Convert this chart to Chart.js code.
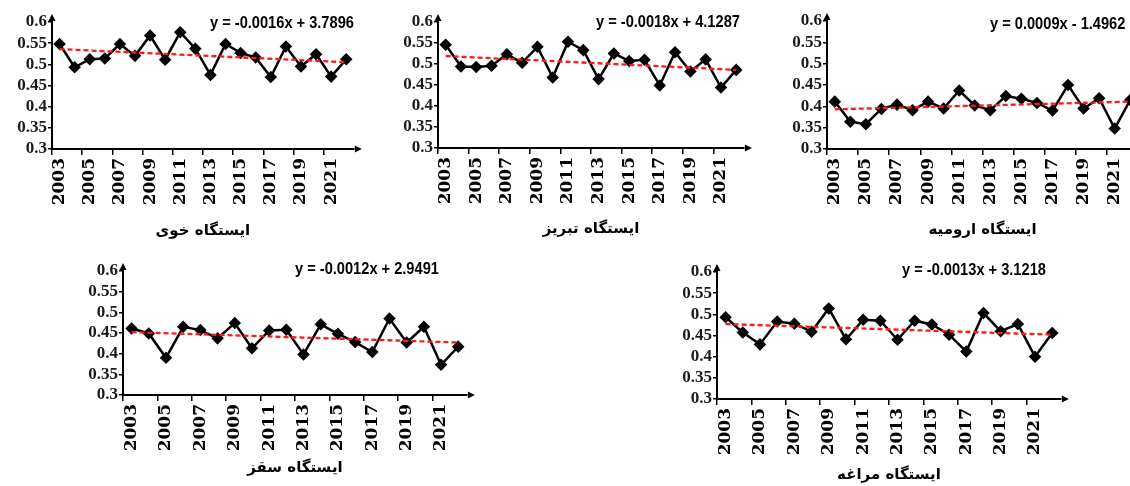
<!DOCTYPE html>
<html>
<head>
<meta charset="utf-8">
<script src="https://cdn.jsdelivr.net/npm/chart.js@4.4.1/dist/chart.umd.min.js"></script>
<style>
  html, body { margin: 0; padding: 0; background: #fff; width: 1130px; height: 486px; overflow: hidden; }
  #wrap { position: relative; width: 1130px; height: 486px; overflow: hidden; }
  canvas { position: absolute; }
</style>
</head>
<body>
<div id="wrap"></div>
<script>
// ---------- DATA ----------
const years = ['2003','2004','2005','2006','2007','2008','2009','2010','2011','2012',
               '2013','2014','2015','2016','2017','2018','2019','2020','2021','2022'];
const yTicks = [0.3, 0.35, 0.4, 0.45, 0.5, 0.55, 0.6];

const khoy     = [0.548,0.493,0.512,0.514,0.548,0.520,0.568,0.511,0.576,0.537,0.475,0.548,0.527,0.516,0.470,0.542,0.495,0.524,0.471,0.512];
const tabriz   = [0.546,0.494,0.493,0.496,0.523,0.503,0.541,0.468,0.553,0.533,0.464,0.525,0.507,0.510,0.449,0.528,0.482,0.511,0.444,0.486];
const urmia    = [0.411,0.364,0.358,0.394,0.404,0.391,0.411,0.395,0.437,0.402,0.391,0.424,0.418,0.408,0.390,0.450,0.395,0.419,0.348,0.415];
const saqqez   = [0.461,0.449,0.390,0.465,0.457,0.437,0.474,0.413,0.456,0.458,0.398,0.471,0.448,0.428,0.404,0.485,0.427,0.465,0.373,0.417];
const maragheh = [0.493,0.457,0.429,0.483,0.478,0.459,0.514,0.441,0.487,0.485,0.440,0.485,0.476,0.452,0.412,0.503,0.460,0.477,0.400,0.456];

// trend line end values (first year, last year)
const khoyTrend     = [0.536, 0.505];
const tabrizTrend   = [0.519, 0.486];
const urmiaTrend    = [0.393, 0.411];
const saqqezTrend   = [0.452, 0.427];
const maraghehTrend = [0.477, 0.452];

const equations = ['y = -0.0016x + 3.7896', 'y = -0.0018x + 4.1287', 'y = 0.0009x - 1.4962',
                   'y = -0.0012x + 2.9491', 'y = -0.0013x + 3.1218'];
const titles = ['ایستگاه خوی', 'ایستگاه تبریز', 'ایستگاه ارومیه', 'ایستگاه سقز', 'ایستگاه مراغه'];

// ---------- LAYOUT (styles / positions) ----------
const layouts = [
  { values: khoy,     trend: khoyTrend,     plot: [52, 22, 356, 149],   titleY: 231, eq: [210, 23] },
  { values: tabriz,   trend: tabrizTrend,   plot: [438, 22, 746, 148],  titleY: 229, eq: [596, 22] },
  { values: urmia,    trend: urmiaTrend,    plot: [827, 21, 1140, 149], titleY: 230, eq: [990, 24] },
  { values: saqqez,   trend: saqqezTrend,   plot: [123, 271, 468, 395], titleY: 468, eq: [295, 269] },
  { values: maragheh, trend: maraghehTrend, plot: [717, 272, 1062, 399],titleY: 475, eq: [902, 270] },
];

const Y_W = 48, PAD_T = 12, PAD_R = 14, TITLE_LH = 18, EQ_SCALE = 0.86;

const arrowPlugin = {
  id: 'arrows',
  afterDraw(chart) {
    const ctx = chart.ctx, a = chart.chartArea;
    ctx.save();
    ctx.fillStyle = '#000';
    ctx.strokeStyle = '#000';
    ctx.lineWidth = 2;
    // y axis extension + arrow
    ctx.beginPath();
    ctx.moveTo(a.left, a.top);
    ctx.lineTo(a.left, a.top - 3);
    ctx.stroke();
    ctx.beginPath();
    ctx.moveTo(a.left, a.top - 8);
    ctx.lineTo(a.left - 3.5, a.top - 1);
    ctx.lineTo(a.left + 3.5, a.top - 1);
    ctx.closePath();
    ctx.fill();
    // x axis arrow
    ctx.beginPath();
    ctx.moveTo(a.right + 8, a.bottom);
    ctx.lineTo(a.right + 1, a.bottom - 3.5);
    ctx.lineTo(a.right + 1, a.bottom + 3.5);
    ctx.closePath();
    ctx.fill();
    ctx.restore();
    // equation (condensed look)
    const o = chart.options.plugins.arrows;
    ctx.save();
    ctx.font = 'bold 17px "Liberation Sans", Arial, sans-serif';
    ctx.fillStyle = '#000';
    ctx.textAlign = 'left';
    ctx.textBaseline = 'middle';
    ctx.translate(o.eqX, o.eqY);
    ctx.scale(EQ_SCALE, 1);
    ctx.fillText(o.eq, 0, 0);
    ctx.restore();
  }
};

const wrap = document.getElementById('wrap');
layouts.forEach((L, k) => {
  const [pl, pt, pr, pb] = L.plot;
  const cl = pl - Y_W;
  const ct = pt - PAD_T;
  const cw = pr + PAD_R - cl;
  const ch = Math.round(L.titleY + TITLE_LH / 2 - ct);
  const xH = ch - PAD_T - (pb - pt);
  const cv = document.createElement('canvas');
  cv.width = cw; cv.height = ch;
  cv.style.left = cl + 'px'; cv.style.top = ct + 'px';
  cv.style.width = cw + 'px'; cv.style.height = ch + 'px';
  wrap.appendChild(cv);

  const trendData = years.map((y, i) => i === 0 ? L.trend[0] : (i === years.length - 1 ? L.trend[1] : null));

  new Chart(cv, {
    type: 'line',
    data: {
      labels: years,
      datasets: [
        {
          data: L.values,
          borderColor: '#000',
          backgroundColor: '#000',
          borderWidth: 2.5,
          pointStyle: 'rectRot',
          pointRadius: 4.5,
          pointBackgroundColor: '#000',
          pointBorderColor: '#000',
          tension: 0,
          order: 1
        },
        {
          data: trendData,
          spanGaps: true,
          borderColor: '#ff1a1a',
          borderWidth: 2.3,
          borderDash: [5, 3],
          pointRadius: 0,
          order: 0
        }
      ]
    },
    options: {
      responsive: false,
      animation: false,
      devicePixelRatio: 1,
      layout: { padding: { top: PAD_T, right: PAD_R, left: 0, bottom: 0 } },
      plugins: {
        legend: { display: false },
        tooltip: { enabled: false },
        arrows: { eq: equations[k], eqX: L.eq[0] - cl, eqY: L.eq[1] - ct }
      },
      scales: {
        x: {
          type: 'category',
          offset: true,
          afterFit(s) { s.height = xH; },
          border: { display: true, color: '#000', width: 2 },
          grid: {
            offset: true,
            drawOnChartArea: false,
            drawTicks: true,
            tickLength: 6,
            lineWidth: 1.5,
            color: (c) => (c.index % 2 === 0 ? '#000' : 'rgba(0,0,0,0)')
          },
          ticks: {
            autoSkip: false,
            minRotation: 90,
            maxRotation: 90,
            padding: 3,
            color: '#000',
            font: { family: '"DejaVu Serif", "Liberation Serif", serif', weight: 'bold', size: 17 },
            callback: (v, i) => (i % 2 === 0 ? years[i] : '')
          },
          title: {
            display: true,
            text: titles[k],
            color: '#000',
            padding: 0,
            font: { family: '"DejaVu Sans", sans-serif', weight: 'bold', size: 15, lineHeight: 1.2 }
          }
        },
        y: {
          min: 0.3,
          max: 0.6,
          afterFit(s) { s.width = Y_W; },
          afterBuildTicks(s) { s.ticks = yTicks.map(v => ({ value: v })); },
          border: { display: true, color: '#000', width: 2 },
          grid: { drawOnChartArea: false, drawTicks: true, tickLength: 4, color: '#000', lineWidth: 1.5 },
          ticks: {
            autoSkip: false,
            padding: 1,
            color: '#1a1a1a',
            font: { family: '"Liberation Serif", "Times New Roman", serif', weight: 'bold', size: 17, lineHeight: 1 },
            callback: (v) => String(Number(v.toFixed(2)))
          }
        }
      }
    },
    plugins: [arrowPlugin]
  });
});
</script>
</body>
</html>
